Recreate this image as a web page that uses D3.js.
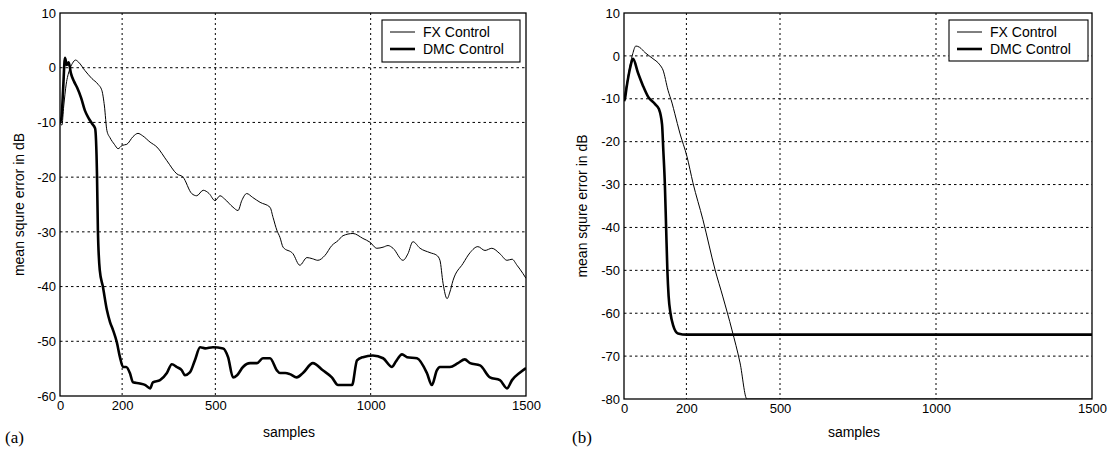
<!DOCTYPE html>
<html>
<head>
<meta charset="utf-8">
<script src="https://cdn.jsdelivr.net/npm/d3@7"></script>
<style>
  html, body { margin: 0; padding: 0; background: #fff; }
  svg { display: block; }
  text { font-family: "Liberation Sans", Arial, sans-serif; fill: #000; }
</style>
</head>
<body>
<svg id="chart" width="1114" height="450"></svg>
<script>
// ---------- data ----------
const xTicks = [0, 200, 500, 1000, 1500];
const yTicksA = [10, 0, -10, -20, -30, -40, -50, -60];
const yTicksB = [10, 0, -10, -20, -30, -40, -50, -60, -70, -80];
const seriesNames = ["FX Control", "DMC Control"];

// panel (a) FX Control
const sA_fx = [0, 6, 12, 20, 30, 40, 50, 60, 80, 103, 122, 135, 143, 151, 161, 175, 187, 200, 215, 235, 251, 265, 290, 312, 344, 376, 396, 424, 440, 461, 480, 499, 515, 530, 557, 573, 585, 601, 620, 644, 676, 686, 698, 708, 718, 750, 772, 795, 812, 830, 853, 875, 895, 911, 943, 975, 998, 1020, 1040, 1056, 1072, 1104, 1120, 1136, 1159, 1191, 1213, 1223, 1233, 1246, 1255, 1265, 1297, 1320, 1345, 1368, 1390, 1416, 1439, 1455, 1471, 1490, 1500];
const dA_fx = [-10, -10.5, -7, -3, -0.5, 0.8, 1.4, 1.0, -0.5, -2, -3, -4.2, -7, -11.5, -12.8, -14, -14.8, -14.2, -14, -12.6, -12, -12.4, -13.6, -14.5, -17, -19.4, -20, -23, -23.4, -22.4, -23, -24.3, -23.4, -24, -25.5, -26.1, -24.3, -23, -23.7, -24.6, -25.5, -27.4, -29.7, -31, -32.8, -34, -36.1, -34.7, -34.9, -35.2, -34.3, -32.5, -31.6, -30.7, -30.3, -31.2, -31.9, -33, -32.8, -32.5, -33, -35.2, -34, -31.8, -33, -33.8, -34.3, -35.2, -39.4, -42.2, -41, -38.9, -35.8, -33.8, -32.7, -33.4, -33, -34, -35.2, -35, -36.1, -37.6, -38.5];

// panel (a) DMC Control
const sA_dmc = [0, 5, 10, 16, 22, 28, 35, 45, 55, 68, 80, 92, 103, 113, 119, 122, 128, 138, 151, 161, 171, 183, 193, 203, 213, 225, 235, 257, 275, 290, 299, 322, 344, 360, 376, 392, 402, 418, 434, 451, 467, 492, 525, 541, 557, 570, 589, 612, 634, 653, 676, 698, 708, 725, 740, 762, 782, 814, 846, 875, 895, 940, 956, 975, 1007, 1040, 1069, 1080, 1101, 1117, 1149, 1181, 1197, 1213, 1223, 1255, 1281, 1303, 1320, 1352, 1384, 1416, 1439, 1455, 1481, 1500];
const dA_dmc = [-10, -9, -4, 1.8, 0.5, 1.0, -1, -2.5, -3.6, -5.5, -7.8, -9.2, -10.2, -11.1, -19.3, -29.7, -37, -40, -44.3, -46.5, -48, -50.2, -52.9, -54.7, -54.7, -55.8, -57.5, -57.7, -58, -58.6, -57.5, -57.1, -55.8, -54.2, -54.7, -55.3, -56.2, -55.7, -53.5, -51.1, -51.3, -51.1, -51.3, -52.9, -56.6, -56.2, -54.7, -54, -54, -53.1, -53.1, -55.3, -55.8, -55.8, -56, -56.6, -55.8, -54, -55.3, -56.6, -58, -58, -53.5, -52.9, -52.6, -53.1, -54.7, -53.8, -52.4, -52.9, -53.1, -55.8, -58, -55.3, -54.7, -54.7, -54, -53.3, -54, -54.4, -56.6, -57.1, -58.6, -57.1, -55.7, -54.9];

// panel (b) FX Control
const sB_fx = [0, 10, 20, 28, 38, 50, 67, 90, 115, 125, 141, 154, 163, 179, 202, 221, 253, 292, 317, 346, 372, 394, 1500];
const dB_fx = [-10, -6, -2, 0.5, 2.3, 2, 0.8, -0.5, -2.1, -3.3, -8, -11, -13.5, -18, -23.5, -29.6, -38.2, -49.9, -56.2, -63.9, -71.6, -80, -80];

// panel (b) DMC Control
const sB_dmc = [0, 3, 8, 19, 29, 45, 61, 77, 99, 112, 122, 126, 131, 135, 139, 143, 149, 157, 173, 202, 1500];
const dB_dmc = [-10.5, -10, -7.5, -3, -0.7, -4, -7, -9.5, -11.2, -12.4, -16, -22, -30, -40, -50, -56, -60, -62.7, -64.7, -65, -65];

// ---------- drawing ----------
const svg = d3.select("#chart");

function zip(s, d) { return s.map((v, i) => [v, d[i]]); }

function panel(opts) {
  const { x0, x1, y0, y1, yDomain, yTicks, fx, dmc, tag, tagX, legend, ylabelX, id } = opts;
  const x = d3.scaleLinear().domain([0, 1500]).range([x0, x1]);
  const y = d3.scaleLinear().domain(yDomain).range([y1, y0]);
  const g = svg.append("g");

  g.append("clipPath").attr("id", id).append("rect")
    .attr("x", x0).attr("y", y0).attr("width", x1 - x0).attr("height", y1 - y0);

  // grid
  g.append("g").selectAll("line").data(yTicks.filter(t => t !== yDomain[0] && t !== yDomain[1]))
    .join("line")
    .attr("x1", x0).attr("x2", x1)
    .attr("y1", d => y(d)).attr("y2", d => y(d))
    .attr("stroke", "#000").attr("stroke-width", 1).attr("stroke-dasharray", "2.5,3");
  g.append("g").selectAll("line").data(xTicks.filter(t => t !== 0 && t !== 1500))
    .join("line")
    .attr("x1", d => x(d)).attr("x2", d => x(d))
    .attr("y1", y0).attr("y2", y1)
    .attr("stroke", "#000").attr("stroke-width", 1).attr("stroke-dasharray", "2,3");

  // axes (labels only)
  const ax = g.append("g").attr("transform", `translate(0,${y1})`)
    .call(d3.axisBottom(x).tickValues(xTicks).tickSize(0).tickPadding(5).tickFormat(d3.format("d")));
  ax.select(".domain").remove();
  ax.selectAll("text").style("font-size", "13px").style("font-family", "'Liberation Sans', Arial, sans-serif");

  const ay = g.append("g").attr("transform", `translate(${x0},0)`)
    .call(d3.axisLeft(y).tickValues(yTicks).tickSize(0).tickPadding(4).tickFormat(d => String(d)));
  ay.select(".domain").remove();
  ay.selectAll("text").style("font-size", "13px").style("font-family", "'Liberation Sans', Arial, sans-serif");

  // lines
  const line = d3.line().x(d => x(d[0])).y(d => y(d[1])).curve(d3.curveMonotoneX);
  const lg = g.append("g").attr("clip-path", `url(#${id})`);
  lg.append("path").datum(fx).attr("d", line)
    .attr("fill", "none").attr("stroke", "#000").attr("stroke-width", 1).attr("stroke-linejoin", "round");
  lg.append("path").datum(dmc).attr("d", line)
    .attr("fill", "none").attr("stroke", "#000").attr("stroke-width", 2.6).attr("stroke-linejoin", "round");

  // frame
  g.append("rect").attr("x", x0).attr("y", y0).attr("width", x1 - x0).attr("height", y1 - y0)
    .attr("fill", "none").attr("stroke", "#000").attr("stroke-width", 1.3);

  // legend
  const L = g.append("g");
  L.append("rect").attr("x", legend.x).attr("y", legend.y).attr("width", legend.w).attr("height", legend.h)
    .attr("fill", "#fff").attr("stroke", "#000").attr("stroke-width", 1.1);
  seriesNames.forEach((name, i) => {
    const ly = legend.y + 12 + i * 17;
    L.append("line").attr("x1", legend.x + 8).attr("x2", legend.x + 33)
      .attr("y1", ly).attr("y2", ly)
      .attr("stroke", "#000").attr("stroke-width", i === 0 ? 1 : 2.6);
    L.append("text").attr("x", legend.x + 41).attr("y", ly + 5)
      .style("font-size", "14px").text(name);
  });

  // axis titles
  g.append("text").attr("x", (x0 + x1) / 2 - 4).attr("y", 437).attr("text-anchor", "middle")
    .style("font-size", "14px").text("samples");
  g.append("text").attr("transform", `translate(${ylabelX},${(y0 + y1) / 2}) rotate(-90)`)
    .attr("text-anchor", "middle").style("font-size", "14px").text("mean squre error in dB");
  g.append("text").attr("x", tagX).attr("y", 443)
    .style("font-family", "'Liberation Serif', 'Times New Roman', serif").style("font-size", "17px").text(tag);
}

panel({
  id: "clipA", x0: 60, x1: 526, y0: 13, y1: 396, yDomain: [-60, 10], yTicks: yTicksA,
  fx: zip(sA_fx, dA_fx), dmc: zip(sA_dmc, dA_dmc), tag: "(a)", tagX: 5,
  legend: { x: 382, y: 20, w: 138, h: 42 }, ylabelX: 24
});
panel({
  id: "clipB", x0: 624, x1: 1092, y0: 13, y1: 399, yDomain: [-80, 10], yTicks: yTicksB,
  fx: zip(sB_fx, dB_fx), dmc: zip(sB_dmc, dB_dmc), tag: "(b)", tagX: 572,
  legend: { x: 949, y: 20, w: 139, h: 41 }, ylabelX: 587
});
</script>
</body>
</html>
